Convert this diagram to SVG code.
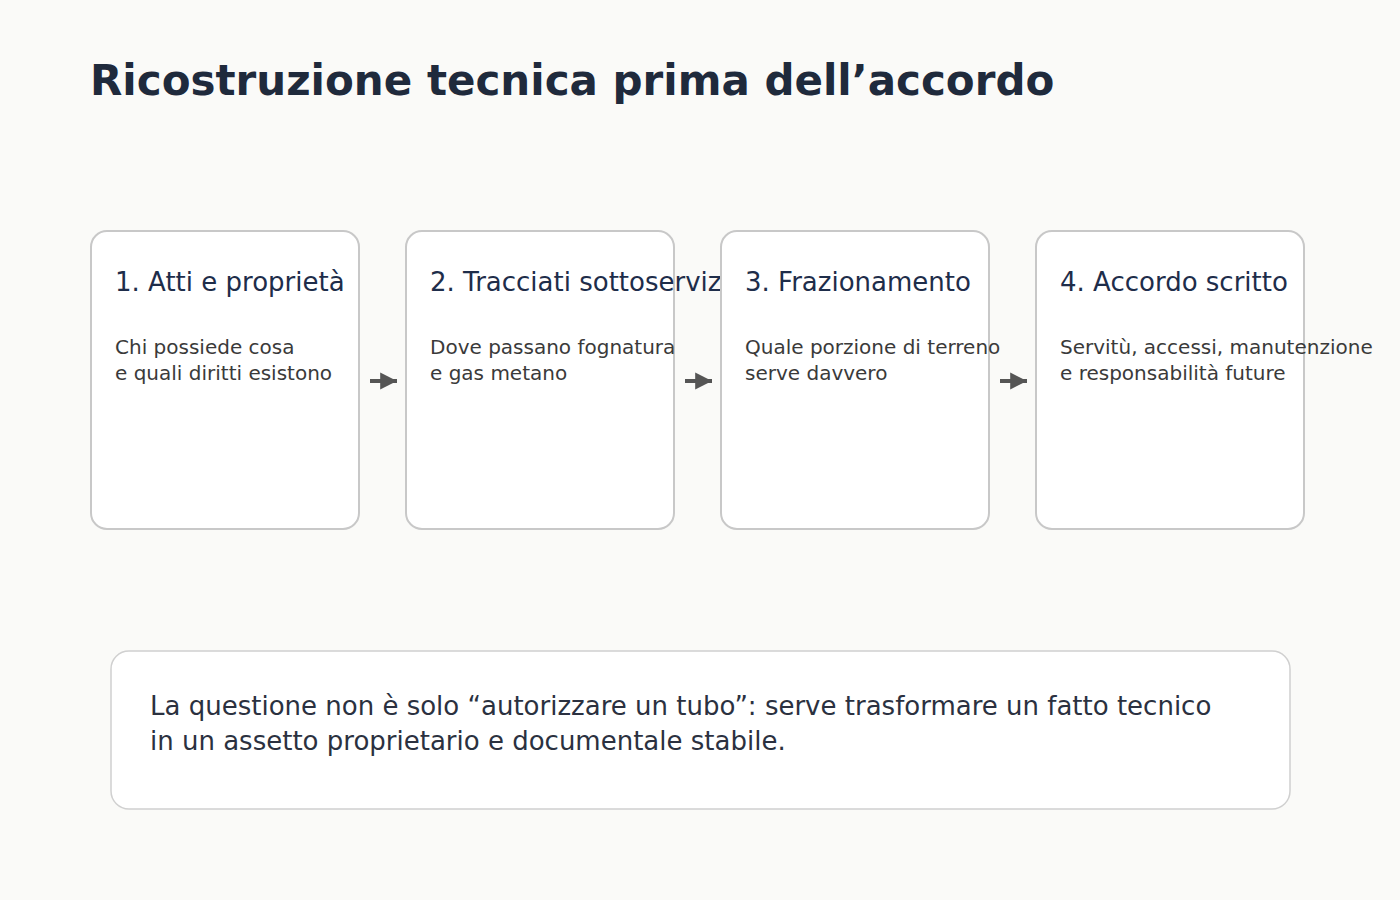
<svg xmlns="http://www.w3.org/2000/svg" width="1400" height="900" viewBox="0 0 1400 900">
<defs>
<marker id="ah" viewBox="0 0 10 10" refX="10" refY="5" markerWidth="4.2" markerHeight="4.4" orient="auto" markerUnits="strokeWidth">
<path d="M0,0 L10,5 L0,10 Z" fill="#555555"/>
</marker>
<style>
.title{font-family:"DejaVu Sans",sans-serif;font-weight:bold;font-size:42px;fill:#1f2a3c}
.box{fill:#ffffff;stroke:#c8c8c8;stroke-width:2}
.ntitle{font-family:"DejaVu Sans",sans-serif;font-size:26px;fill:#1e2d4a}
.ndesc{font-family:"DejaVu Sans",sans-serif;font-size:20px;fill:#3a3a3a}
.conn{stroke:#555555;stroke-width:4;fill:none}
.note{fill:#ffffff;stroke:#d0d0d0;stroke-width:1.5}
.ntext{font-family:"DejaVu Sans",sans-serif;font-size:26px;fill:#2b3140}
</style>
</defs>
<rect width="1400" height="900" fill="#fafaf8"/>
<text class="title" x="90" y="95">Ricostruzione tecnica prima dell’accordo</text>
<g id="node1">
<rect class="box" x="91" y="231" width="268" height="298" rx="16"/>
<text class="ntitle" x="115" y="291">1. Atti e proprietà</text>
<text class="ndesc" x="115" y="354">Chi possiede cosa</text>
<text class="ndesc" x="115" y="380">e quali diritti esistono</text>
</g>
<g id="node2">
<rect class="box" x="406" y="231" width="268" height="298" rx="16"/>
<text class="ntitle" x="430" y="291">2. Tracciati sottoservizi</text>
<text class="ndesc" x="430" y="354">Dove passano fognatura</text>
<text class="ndesc" x="430" y="380">e gas metano</text>
</g>
<g id="node3">
<rect class="box" x="721" y="231" width="268" height="298" rx="16"/>
<text class="ntitle" x="745" y="291">3. Frazionamento</text>
<text class="ndesc" x="745" y="354">Quale porzione di terreno</text>
<text class="ndesc" x="745" y="380">serve davvero</text>
</g>
<g id="node4">
<rect class="box" x="1036" y="231" width="268" height="298" rx="16"/>
<text class="ntitle" x="1060" y="291">4. Accordo scritto</text>
<text class="ndesc" x="1060" y="354">Servitù, accessi, manutenzione</text>
<text class="ndesc" x="1060" y="380">e responsabilità future</text>
</g>
<g id="connectors">
<line class="conn" x1="370" y1="381" x2="397" y2="381" marker-end="url(#ah)"/>
<line class="conn" x1="685" y1="381" x2="712" y2="381" marker-end="url(#ah)"/>
<line class="conn" x1="1000" y1="381" x2="1027" y2="381" marker-end="url(#ah)"/>
</g>
<g id="note">
<rect class="note" x="111" y="651" width="1179" height="158" rx="18"/>
<text class="ntext" x="150" y="715">La questione non è solo “autorizzare un tubo”: serve trasformare un fatto tecnico</text>
<text class="ntext" x="150" y="750">in un assetto proprietario e documentale stabile.</text>
</g>
</svg>
